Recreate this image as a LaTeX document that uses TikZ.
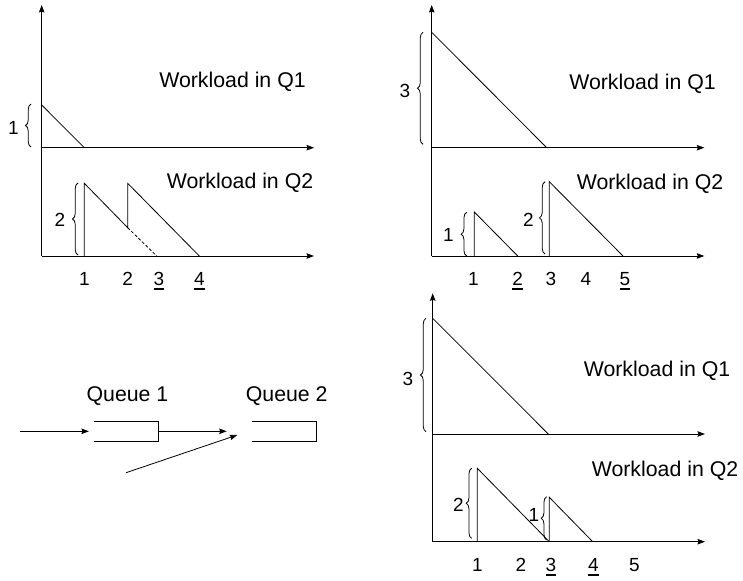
\documentclass[tikz,border=0pt]{standalone}
\usepackage{fontspec}
\setmainfont{Liberation Sans}
\usetikzlibrary{decorations.pathreplacing,arrows.meta}
\newcommand\undl[1]{\setbox0\hbox{#1}\rlap{\rule[-4.5pt]{\wd0}{1.7pt}}\box0}

\begin{document}
\begin{tikzpicture}[x=1pt,y=-1pt,line width=0.8pt,
  >={Stealth[length=7.5pt,width=5.5pt,inset=1pt]},
  txt/.style={font=\fontsize{21.3}{25}\selectfont,inner sep=0pt,anchor=base},
  num/.style={font=\fontsize{19}{22}\selectfont,inner sep=0pt,anchor=base},
  brc/.style={decorate,decoration={brace,amplitude=5.5pt}},
  qbox/.style={minimum height=19.3pt,inner sep=0pt}]
\path[use as bounding box] (0,0) rectangle (743,580);

\foreach \x/\ya/\yb/\yt/\xr in {41.7/147.7/256/5/314, 431.7/147.7/256/5/704.3, 432.7/434/541.7/293.3/705}{
  \draw[->] (\x,\yb) -- (\x,\yt);
  \draw[->] (\x,\ya) -- (\xr,\ya);
  \draw[->] (\x,\yb) -- (\xr,\yb);
}

\draw (41.7,105) -- (84.3,147.7);
\draw (84.3,256) -- (84.3,183.3) -- (127.7,227.7) -- (127.7,183.3) -- (199.3,256);
\draw[dash pattern=on 3pt off 2pt] (127.7,227.7) -- (156.7,256);
\draw[brc] (31,147) -- (31,104);
\draw[brc] (78,255) -- (78,183);
\node[num] (a1) at (13.3,135) {1};
\node[num] (a2) at (60,226.7) {2};
\node[txt] (aq1) at (232.5,87.3) {Workload in Q1};
\node[txt] (aq2) at (240,188.3) {Workload in Q2};
\foreach \x/\t [count=\i] in {84.3/1, 127.7/2, 159/\undl{3}, 199.3/\undl{4}}{
  \node[num] (at\i) at (\x,285) {\t};
}

\draw (431.7,32.3) -- (546.7,147.7);
\draw (474.3,256) -- (474.3,212) -- (517.7,256);
\draw (549.3,256) -- (549.3,181.7) -- (623,256);
\draw[brc] (423,144.3) -- (423,32.3);
\draw[brc] (466.7,256) -- (466.7,212.3);
\draw[brc] (545,254) -- (545,181.7);
\node[num] (b3) at (405,97.7) {3};
\node[num] (b1) at (448.3,241.7) {1};
\node[num] (b2) at (528.3,226.7) {2};
\node[txt] (bq1) at (642.5,89.3) {Workload in Q1};
\node[txt] (bq2) at (650,189.3) {Workload in Q2};
\foreach \x/\t [count=\i] in {473.3/1, 517.7/\undl{2}, 551/3, 586/4, 625/\undl{5}}{
  \node[num] (bt\i) at (\x,285) {\t};
}

\draw (432.7,318.3) -- (548.3,434);
\draw (477.3,541.7) -- (477.3,468.3) -- (549.3,541.7);
\draw (549.3,541.7) -- (549.3,497.3) -- (592.7,541.7);
\draw[brc] (426,431.7) -- (426,318.3);
\draw[brc] (471.7,538.3) -- (471.7,468.3);
\draw[brc] (546.7,540) -- (546.7,496.7);
\node[num] (c3) at (408,385) {3};
\node[num] (c2) at (458.3,511.7) {2};
\node[num] (c1) at (534,521.7) {1};
\node[txt] (cq1) at (657,376.7) {Workload in Q1};
\node[txt] (cq2) at (665,476.7) {Workload in Q2};
\foreach \x/\t [count=\i] in {477.3/1, 521/2, 551/\undl{3}, 593.3/\undl{4}, 634.3/5}{
  \node[num] (ct\i) at (\x,571.5) {\t};
}

\node[qbox,minimum width=64pt] (q1) at (126.3,431.3) {};
\node[qbox,minimum width=63.3pt] (q2) at (284.3,431.3) {};
\draw (q1.north west) -- (q1.north east) -- (q1.south east) -- (q1.south west);
\draw (q2.north west) -- (q2.north east) -- (q2.south east) -- (q2.south west);
\node[txt] (q1lab) at (127.5,401.7) {Queue 1};
\node[txt] (q2lab) at (286.7,401.7) {Queue 2};
\coordinate (in1) at (20,431.3);
\coordinate (in2) at (126,472.7);
\coordinate (mid1) at (226.7,431.3);
\coordinate (mid2) at (237.3,435);
\draw[->,shorten >=5pt] (in1) -- (q1.west);
\draw[->] (q1.east) -- (mid1);
\draw[->] (in2) -- (mid2);
\end{tikzpicture}
\end{document}
